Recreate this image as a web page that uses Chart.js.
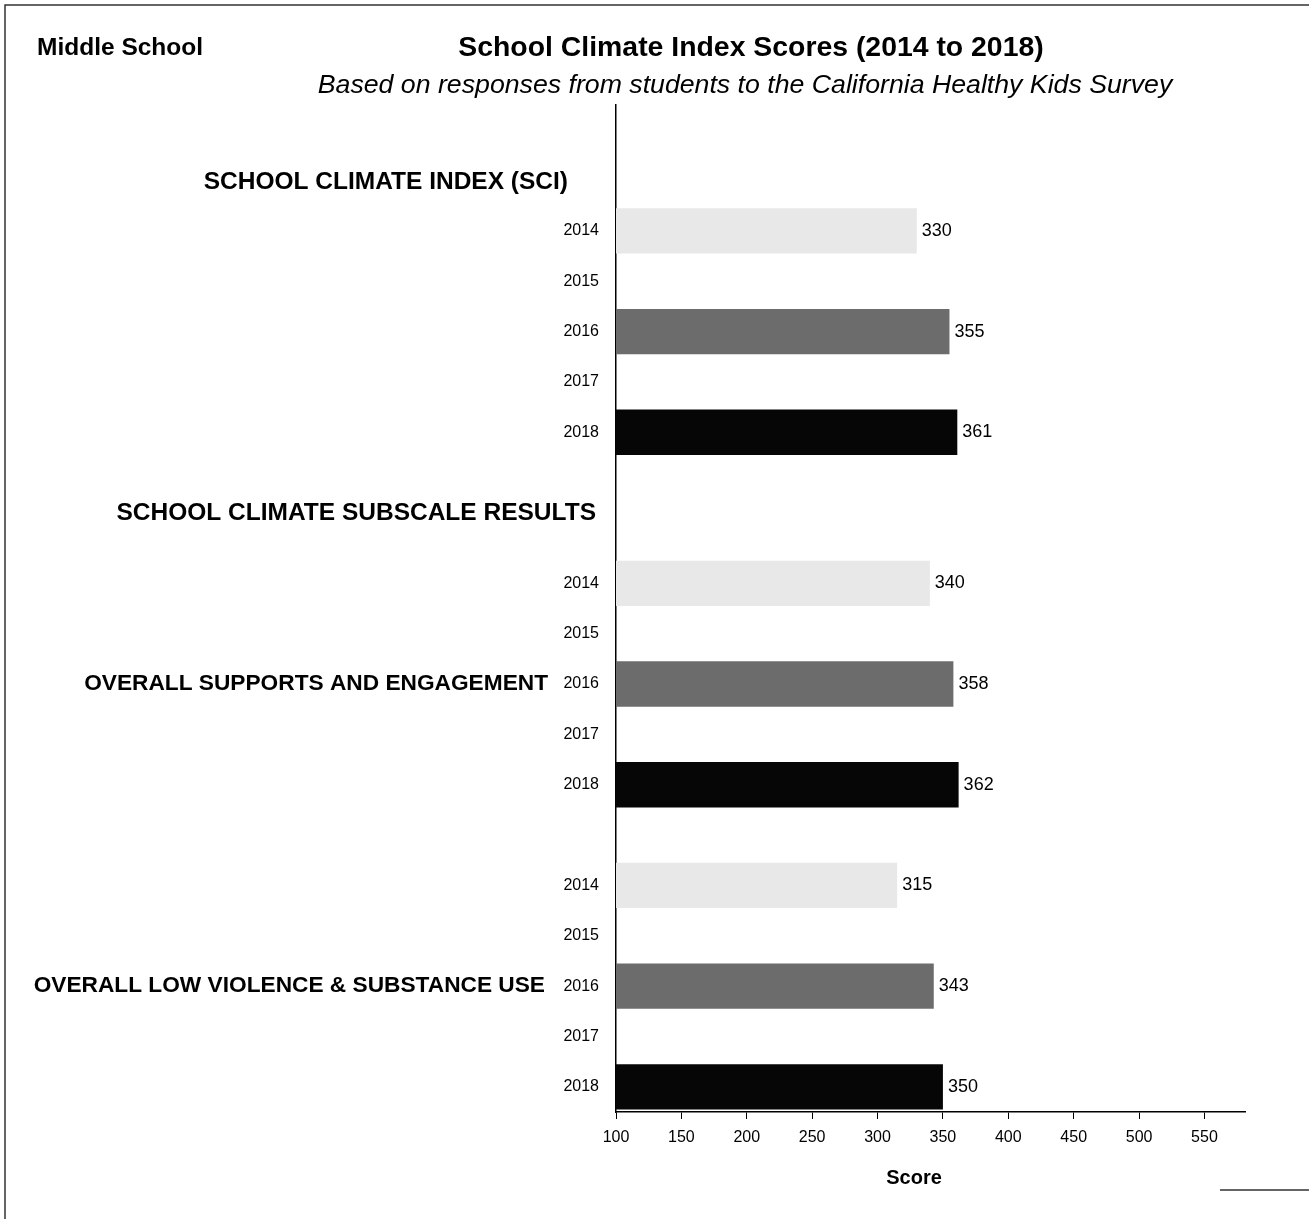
<!DOCTYPE html>
<html>
<head>
<meta charset="utf-8">
<title>School Climate Index Scores (2014 to 2018)</title>
<script src="https://cdn.jsdelivr.net/npm/chart.js@4.4.1/dist/chart.umd.min.js"></script>
<style>
  html, body { margin: 0; padding: 0; background: #fff; }
  #wrap { position: relative; width: 1309px; height: 1219px; }
</style>
</head>
<body>
<div id="wrap"><canvas id="chart"></canvas></div>
<script>
/* ===== data ===== */
const years = ["2014", "2015", "2016", "2017", "2018"];
const sciScores = [330, null, 355, null, 361];
const supportScores = [340, null, 358, null, 362];
const violenceScores = [315, null, 343, null, 350];
const xTickValues = [100, 150, 200, 250, 300, 350, 400, 450, 500, 550];
const yearColors = { "2014": "#e8e8e8", "2016": "#6c6c6c", "2018": "#060606" };

// rows of the y axis: blank spacer rows between the groups
const labels = ["", "", ...years, "", "", ...years, "", ...years];
const values = [null, null, ...sciScores, null, null, ...supportScores, null, ...violenceScores];
const FONT = "'Liberation Sans', Arial, Helvetica, sans-serif";

/* ===== texts drawn on top of the chart ===== */
const annotations = {
  id: "annotations",
  afterDraw(chart) {
    const { ctx, chartArea } = chart;
    const y = chart.scales.y;
    const left = chartArea.left;
    const rowY = i => y.getPixelForValue(i);
    ctx.save();
    ctx.fillStyle = "#000";
    ctx.textBaseline = "middle";

    // value labels at bar ends
    ctx.font = "18px " + FONT;
    ctx.textAlign = "left";
    chart.getDatasetMeta(0).data.forEach((bar, i) => {
      if (values[i] == null) return;
      ctx.fillText(String(values[i]), bar.x + 5, bar.y);
    });

    // section headings
    ctx.textAlign = "right";
    ctx.font = "bold 24.5px " + FONT;
    ctx.fillText("SCHOOL CLIMATE INDEX (SCI)", left - 48, rowY(1) + 2);
    ctx.fillText("SCHOOL CLIMATE SUBSCALE RESULTS", left - 20, rowY(7) + 0.6 * (rowY(8) - rowY(7)));
    ctx.font = "bold 22.7px " + FONT;
    ctx.fillText("OVERALL SUPPORTS AND ENGAGEMENT", left - 68, rowY(11));
    ctx.fillText("OVERALL LOW VIOLENCE & SUBSTANCE USE", left - 71, rowY(17));

    // axis title
    ctx.textAlign = "center";
    ctx.font = "bold 20px " + FONT;
    ctx.fillText("Score", 914, 1178);

    // page titles
    ctx.textAlign = "left";
    ctx.font = "bold 24.5px " + FONT;
    ctx.fillText("Middle School", 37, 48);
    ctx.textAlign = "center";
    ctx.font = "bold 28.4px " + FONT;
    ctx.fillText("School Climate Index Scores (2014 to 2018)", 751, 48);
    ctx.font = "italic 26.7px " + FONT;
    ctx.fillText("Based on responses from students to the California Healthy Kids Survey", 745, 86);

    // frame of the page
    ctx.strokeStyle = "#333";
    ctx.lineWidth = 1.5;
    ctx.beginPath();
    ctx.moveTo(5, 1219); ctx.lineTo(5, 5); ctx.lineTo(1309, 5);
    ctx.moveTo(1220, 1190); ctx.lineTo(1309, 1190);
    ctx.stroke();
    ctx.restore();
  }
};

new Chart(document.getElementById("chart"), {
  type: "bar",
  data: {
    labels,
    datasets: [{
      data: values,
      backgroundColor: labels.map(l => yearColors[l] || "#fff"),
      barPercentage: 0.9,
      categoryPercentage: 1.0
    }]
  },
  options: {
    indexAxis: "y",
    responsive: true,
    maintainAspectRatio: false,
    animation: false,
    layout: { padding: { top: 105, right: 64, left: 0, bottom: 0 } },
    plugins: { legend: { display: false }, tooltip: { enabled: false } },
    scales: {
      x: {
        min: 100, max: 581,
        afterFit: s => { s.height = 107; },
        afterBuildTicks: s => { s.ticks = xTickValues.map(v => ({ value: v })); },
        border: { color: "#000", width: 1.5 },
        grid: { drawOnChartArea: false, drawTicks: true, tickLength: 7, color: "#000" },
        ticks: { color: "#000", font: { family: FONT, size: 16 }, padding: 9, maxRotation: 0 }
      },
      y: {
        afterFit: s => { s.width = 616; },
        border: { color: "#000", width: 1.5 },
        grid: { display: false },
        ticks: { color: "#000", font: { family: FONT, size: 16 }, padding: 9, autoSkip: false }
      }
    }
  },
  plugins: [annotations]
});
</script>
</body>
</html>
